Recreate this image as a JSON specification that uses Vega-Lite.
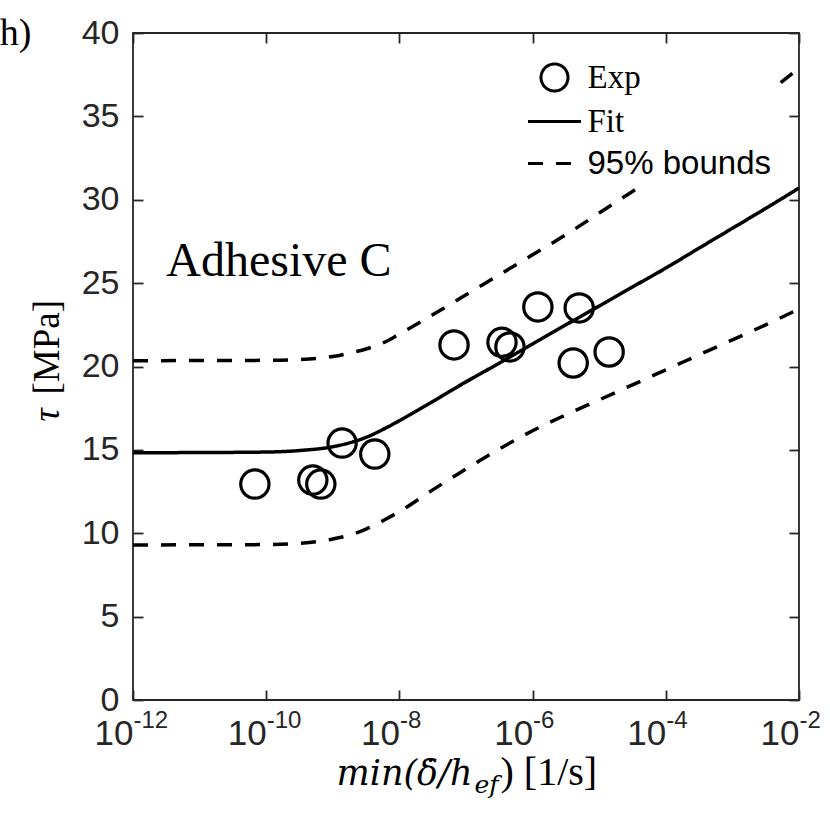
{
  "$schema": "https://vega.github.io/schema/vega-lite/v6.json",
  "autosize": {"type": "none"},
  "padding": {"left": 133, "top": 33, "right": 31, "bottom": 114},
  "width": 666,
  "height": 667,
  "background": "white",
  "config": {
    "view": {"stroke": "#262626", "strokeWidth": 1.8},
    "axis": {"grid": false, "domain": false, "labelColor": "#262626", "tickColor": "#262626", "tickWidth": 1.8, "labelFont": "Liberation Sans", "titleColor": "black", "titleFontWeight": "normal"}
  },
  "datasets": {
    "exp": [
      {"x": 6.76e-11, "tau": 12.95, "series": "Exp"},
      {"x": 5.01e-10, "tau": 13.19, "series": "Exp"},
      {"x": 6.61e-10, "tau": 12.95, "series": "Exp"},
      {"x": 1.38e-9, "tau": 15.41, "series": "Exp"},
      {"x": 4.27e-9, "tau": 14.75, "series": "Exp"},
      {"x": 6.61e-8, "tau": 21.29, "series": "Exp"},
      {"x": 3.47e-7, "tau": 21.45, "series": "Exp"},
      {"x": 4.57e-7, "tau": 21.17, "series": "Exp"},
      {"x": 1.2e-6, "tau": 23.57, "series": "Exp"},
      {"x": 4.07e-6, "tau": 20.21, "series": "Exp"},
      {"x": 5.01e-6, "tau": 23.51, "series": "Exp"},
      {"x": 1.41e-5, "tau": 20.87, "series": "Exp"}
    ],
    "fit": [
      {"x": 1e-12, "tau": 14.83, "series": "Fit"},
      {"x": 1e-11, "tau": 14.84, "series": "Fit"},
      {"x": 1e-10, "tau": 14.87, "series": "Fit"},
      {"x": 3.16e-10, "tau": 14.96, "series": "Fit"},
      {"x": 1e-9, "tau": 15.19, "series": "Fit"},
      {"x": 2e-9, "tau": 15.48, "series": "Fit"},
      {"x": 3.16e-9, "tau": 15.75, "series": "Fit"},
      {"x": 6.3e-9, "tau": 16.32, "series": "Fit"},
      {"x": 1e-8, "tau": 16.75, "series": "Fit"},
      {"x": 3.16e-8, "tau": 17.9, "series": "Fit"},
      {"x": 1e-7, "tau": 19.08, "series": "Fit"},
      {"x": 3.16e-7, "tau": 20.2, "series": "Fit"},
      {"x": 1e-6, "tau": 21.35, "series": "Fit"},
      {"x": 3.16e-6, "tau": 22.5, "series": "Fit"},
      {"x": 1e-5, "tau": 23.63, "series": "Fit"},
      {"x": 3.16e-5, "tau": 24.77, "series": "Fit"},
      {"x": 1e-4, "tau": 25.9, "series": "Fit"},
      {"x": 3.16e-4, "tau": 27.1, "series": "Fit"},
      {"x": 1e-3, "tau": 28.29, "series": "Fit"},
      {"x": 3.16e-3, "tau": 29.48, "series": "Fit"},
      {"x": 1e-2, "tau": 30.7, "series": "Fit"}
    ],
    "bounds": [
      {"x": 1e-12, "tau": 20.35, "bound": "upper", "series": "95% bounds"},
      {"x": 1e-10, "tau": 20.37, "bound": "upper", "series": "95% bounds"},
      {"x": 3.16e-10, "tau": 20.42, "bound": "upper", "series": "95% bounds"},
      {"x": 1e-9, "tau": 20.6, "bound": "upper", "series": "95% bounds"},
      {"x": 2e-9, "tau": 20.85, "bound": "upper", "series": "95% bounds"},
      {"x": 3.16e-9, "tau": 21.05, "bound": "upper", "series": "95% bounds"},
      {"x": 6.3e-9, "tau": 21.5, "bound": "upper", "series": "95% bounds"},
      {"x": 1e-8, "tau": 21.95, "bound": "upper", "series": "95% bounds"},
      {"x": 3.16e-8, "tau": 23.1, "bound": "upper", "series": "95% bounds"},
      {"x": 1e-7, "tau": 24.3, "bound": "upper", "series": "95% bounds"},
      {"x": 3.16e-7, "tau": 25.5, "bound": "upper", "series": "95% bounds"},
      {"x": 1e-6, "tau": 26.7, "bound": "upper", "series": "95% bounds"},
      {"x": 3.16e-6, "tau": 27.9, "bound": "upper", "series": "95% bounds"},
      {"x": 1e-5, "tau": 29.2, "bound": "upper", "series": "95% bounds"},
      {"x": 3.16e-5, "tau": 30.5, "bound": "upper", "series": "95% bounds"},
      {"x": 1e-4, "tau": 31.8, "bound": "upper", "series": "95% bounds"},
      {"x": 3.16e-4, "tau": 33.2, "bound": "upper", "series": "95% bounds"},
      {"x": 1e-3, "tau": 34.7, "bound": "upper", "series": "95% bounds"},
      {"x": 3.16e-3, "tau": 36.3, "bound": "upper", "series": "95% bounds"},
      {"x": 1e-2, "tau": 37.9, "bound": "upper", "series": "95% bounds"},
      {"x": 1e-12, "tau": 9.3, "bound": "lower", "series": "95% bounds"},
      {"x": 1e-10, "tau": 9.32, "bound": "lower", "series": "95% bounds"},
      {"x": 3.16e-10, "tau": 9.4, "bound": "lower", "series": "95% bounds"},
      {"x": 1e-9, "tau": 9.65, "bound": "lower", "series": "95% bounds"},
      {"x": 2e-9, "tau": 9.95, "bound": "lower", "series": "95% bounds"},
      {"x": 3.16e-9, "tau": 10.25, "bound": "lower", "series": "95% bounds"},
      {"x": 6.3e-9, "tau": 10.85, "bound": "lower", "series": "95% bounds"},
      {"x": 1e-8, "tau": 11.3, "bound": "lower", "series": "95% bounds"},
      {"x": 3.16e-8, "tau": 12.6, "bound": "lower", "series": "95% bounds"},
      {"x": 1e-7, "tau": 13.85, "bound": "lower", "series": "95% bounds"},
      {"x": 3.16e-7, "tau": 15.05, "bound": "lower", "series": "95% bounds"},
      {"x": 1e-6, "tau": 16.15, "bound": "lower", "series": "95% bounds"},
      {"x": 3.16e-6, "tau": 17.1, "bound": "lower", "series": "95% bounds"},
      {"x": 1e-5, "tau": 18.0, "bound": "lower", "series": "95% bounds"},
      {"x": 3.16e-5, "tau": 18.9, "bound": "lower", "series": "95% bounds"},
      {"x": 1e-4, "tau": 19.8, "bound": "lower", "series": "95% bounds"},
      {"x": 3.16e-4, "tau": 20.7, "bound": "lower", "series": "95% bounds"},
      {"x": 1e-3, "tau": 21.6, "bound": "lower", "series": "95% bounds"},
      {"x": 3.16e-3, "tau": 22.5, "bound": "lower", "series": "95% bounds"},
      {"x": 1e-2, "tau": 23.45, "bound": "lower", "series": "95% bounds"}
    ],
    "note": [{"x": 3.16e-12, "tau": 25.4, "label": "Adhesive C"}],
    "panel": [{"x": 1e-14, "tau": 39.3, "label": "h)"}]
  },
  "resolve": {"axis": {"x": "independent", "y": "independent"}},
  "layer": [
    {
      "data": {"name": "bounds"},
      "mark": {"type": "line", "color": "black", "strokeWidth": 3.5, "interpolate": "monotone"},
      "encoding": {
        "x": {"field": "x", "type": "quantitative", "scale": {"type": "log", "domain": [1e-12, 1e-2], "nice": false},
          "axis": {"orient": "bottom", "values": [1e-12, 1e-10, 1e-8, 1e-6, 1e-4, 1e-2], "labelExpr": "'10'", "labelAlign": "right", "labelDx": -1, "labelBaseline": "alphabetic", "labelPadding": 44, "labelFontSize": 35, "labelFlush": false, "labelOverlap": false, "labelBound": false, "ticks": false, "domain": false,
            "title": "min(δ̇/h", "titleFont": "DejaVu Serif", "titleFontStyle": "italic", "titleFontSize": 35, "titleAlign": "right", "titleBaseline": "alphabetic", "titleX": 339, "titleY": 84}},
        "y": {"field": "tau", "type": "quantitative", "scale": {"domain": [0, 40], "nice": false},
          "axis": {"orient": "left", "values": [0, 5, 10, 15, 20, 25, 30, 35, 40], "labelFontSize": 34, "labelPadding": 14, "labelOverlap": false, "ticks": false, "domain": false,
            "title": "τ", "titleFont": "Liberation Serif", "titleFontStyle": "italic", "titleFontSize": 37, "titleAngle": 270, "titleAlign": "left", "titleBaseline": "alphabetic", "titleX": -75, "titleY": 388}},
        "detail": {"field": "bound"},
        "strokeDash": {"field": "series", "type": "nominal",
          "scale": {"domain": ["Exp", "Fit", "95% bounds"], "range": [[1, 0], [1, 0], [15, 13]]},
          "legend": {"title": null, "orient": "top-right", "offset": 22, "padding": 6, "fillColor": "white", "rowPadding": 8, "symbolOffset": 10, "labelOffset": 16.5, "labelLimit": 400, "symbolSize": 729, "symbolStrokeWidth": 3, "symbolStrokeColor": "black", "symbolFillColor": "transparent", "labelFontSize": 33, "labelColor": "black", "labelFont": "Liberation Serif",
            "encoding": {"labels": {"font": {"condition": {"test": "datum.label === '95% bounds'", "value": "Liberation Sans"}, "value": "Liberation Serif"}}, "symbols": {"fill": {"value": "transparent"}, "stroke": {"value": "black"}, "strokeWidth": {"value": 3}}}}}
      }
    },
    {
      "data": {"name": "fit"},
      "mark": {"type": "line", "color": "black", "strokeWidth": 3.5, "interpolate": "monotone"},
      "encoding": {
        "x": {"field": "x", "type": "quantitative",
          "axis": {"orient": "bottom", "values": [1e-12, 1e-10, 1e-8, 1e-6, 1e-4, 1e-2], "labelExpr": "'' + round(log(datum.value) / LN10)", "labelAlign": "left", "labelDx": 0, "labelBaseline": "alphabetic", "labelPadding": 27, "labelFontSize": 24, "labelFlush": false, "labelOverlap": false, "labelBound": false, "ticks": false, "domain": false,
            "title": "ef", "titleFont": "DejaVu Serif", "titleFontStyle": "italic", "titleFontSize": 25, "titleAlign": "left", "titleBaseline": "alphabetic", "titleX": 341, "titleY": 92}},
        "y": {"field": "tau", "type": "quantitative",
          "axis": {"orient": "left", "offset": -10, "tickSize": 10, "values": [0, 5, 10, 15, 20, 25, 30, 35, 40], "labels": false, "domain": false,
            "title": "[MPa]", "titleFont": "Liberation Serif", "titleFontSize": 37, "titleAngle": 270, "titleAlign": "left", "titleBaseline": "alphabetic", "titleX": -85, "titleY": 361}},
        "strokeDash": {"field": "series", "type": "nominal",
          "scale": {"domain": ["Exp", "Fit", "95% bounds"], "range": [[1, 0], [1, 0], [15, 13]]},
          "legend": {"title": null, "orient": "top-right", "offset": 22, "padding": 6, "fillColor": "white", "rowPadding": 8, "symbolOffset": 10, "labelOffset": 16.5, "labelLimit": 400, "symbolSize": 729, "symbolStrokeWidth": 3, "symbolStrokeColor": "black", "symbolFillColor": "transparent", "labelFontSize": 33, "labelColor": "black", "labelFont": "Liberation Serif",
            "encoding": {"labels": {"font": {"condition": {"test": "datum.label === '95% bounds'", "value": "Liberation Sans"}, "value": "Liberation Serif"}}, "symbols": {"fill": {"value": "transparent"}, "stroke": {"value": "black"}, "strokeWidth": {"value": 3}}}}}
      }
    },
    {
      "data": {"name": "exp"},
      "mark": {"type": "point", "filled": false, "size": 800, "strokeWidth": 3.2, "color": "black", "opacity": 1},
      "encoding": {
        "x": {"field": "x", "type": "quantitative",
          "axis": {"orient": "bottom", "offset": -10, "tickSize": 10, "values": [1e-12, 1e-10, 1e-8, 1e-6, 1e-4, 1e-2], "labels": false, "domain": false,
            "title": ") [1/s]", "titleFont": "Liberation Serif", "titleFontSize": 40, "titleAlign": "left", "titleBaseline": "alphabetic", "titleX": 367, "titleY": 94}},
        "y": {"field": "tau", "type": "quantitative",
          "axis": {"orient": "right", "offset": -10, "tickSize": 10, "values": [0, 5, 10, 15, 20, 25, 30, 35, 40], "labels": false, "domain": false, "title": null}},
        "shape": {"field": "series", "type": "nominal",
          "scale": {"domain": ["Exp", "Fit", "95% bounds"], "range": ["circle", "M-1.96,0L1.96,0", "M-1.96,0L1.96,0"]},
          "legend": {"title": null, "orient": "top-right", "offset": 22, "padding": 6, "fillColor": "white", "rowPadding": 8, "symbolOffset": 10, "labelOffset": 16.5, "labelLimit": 400, "symbolSize": 729, "symbolStrokeWidth": 3, "symbolStrokeColor": "black", "symbolFillColor": "transparent", "labelFontSize": 33, "labelColor": "black", "labelFont": "Liberation Serif",
            "encoding": {"labels": {"font": {"condition": {"test": "datum.label === '95% bounds'", "value": "Liberation Sans"}, "value": "Liberation Serif"}}, "symbols": {"fill": {"value": "transparent"}, "stroke": {"value": "black"}, "strokeWidth": {"value": 3}}}}}
      }
    },
    {
      "data": {"name": "note"},
      "mark": {"type": "text", "font": "Liberation Serif", "fontSize": 48, "align": "left", "baseline": "alphabetic", "color": "black"},
      "encoding": {
        "x": {"field": "x", "type": "quantitative",
          "axis": {"orient": "top", "offset": -10, "tickSize": 10, "values": [1e-12, 1e-10, 1e-8, 1e-6, 1e-4, 1e-2], "labels": false, "domain": false, "title": null}},
        "y": {"field": "tau", "type": "quantitative", "axis": null},
        "text": {"field": "label"}
      }
    },
    {
      "data": {"name": "panel"},
      "mark": {"type": "text", "font": "Liberation Serif", "fontSize": 38, "align": "left", "baseline": "alphabetic", "color": "black"},
      "encoding": {
        "x": {"field": "x", "type": "quantitative", "axis": null},
        "y": {"field": "tau", "type": "quantitative", "axis": null},
        "text": {"field": "label"}
      }
    }
  ]
}
